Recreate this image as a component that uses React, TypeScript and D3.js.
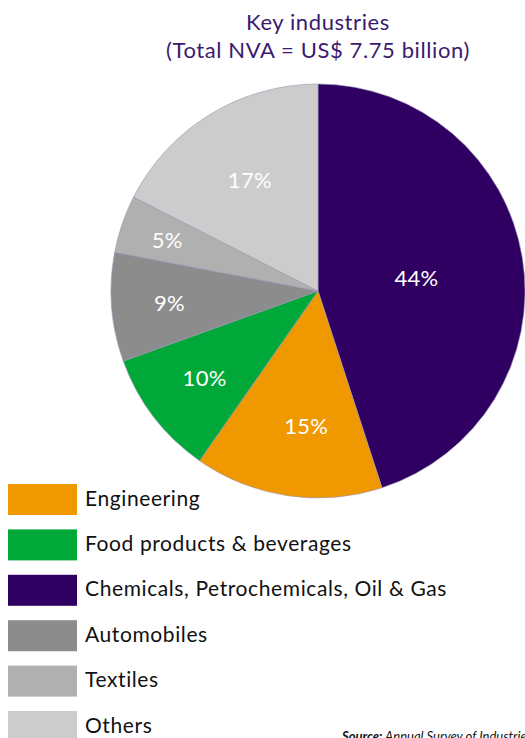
import React from "react";
import * as d3 from "d3";

const categories = ["Chemicals, Petrochemicals, Oil & Gas", "Engineering", "Food products & beverages", "Automobiles", "Textiles", "Others"];
const shares = [45.0, 14.7, 9.8, 8.5, 4.5, 17.5];
const shareLabels = ["44%", "15%", "10%", "9%", "5%", "17%"];
const sliceColors = ["#2f0061", "#f09800", "#00a83a", "#8c8c8c", "#b0b0b0", "#cccccc"];
const legendOrder = ["Engineering", "Food products & beverages", "Chemicals, Petrochemicals, Oil & Gas", "Automobiles", "Textiles", "Others"];
const titleLines = ["Key industries", "(Total NVA = US$ 7.75 billion)"];

// label placement (fraction of radius, angle nudge in radians) per slice, layout only
const labelRadiusFrac = [0.48, 0.65, 0.69, 0.72, 0.77, 0.63];
const labelAngleNudge = [0.02, -0.06, 0, 0, 0, 0];

const W = 525, H = 738;
const cx = 318, cy = 291, R = 207;
const FONT = "Lato, 'Open Sans', sans-serif";

export default function App() {
  const pie = d3.pie<number>().sort(null).value((d) => d);
  const arcs = pie(shares);
  const arcGen = d3.arc<d3.PieArcDatum<number>>().innerRadius(0).outerRadius(R);
  const color = d3.scaleOrdinal<string, string>().domain(categories).range(sliceColors);

  const legendY = d3.scalePoint<string>().domain(legendOrder).range([499, 726]);

  return (
    <svg width={W} height={H} style={{ position: "absolute", left: 0, top: 0, display: "block" }}>
      <rect width={W} height={H} fill="#fff" />
      {titleLines.map((t, i) => (
        <text key={i} x={318} y={30 + i * 28} textAnchor="middle" fontFamily={FONT} fontSize={22} letterSpacing={0.6} fill="#3b1a6e">
          {t}
        </text>
      ))}
      <g transform={`translate(${cx},${cy})`}>
        {arcs.map((a, i) => (
          <path key={i} d={arcGen(a) || ""} fill={color(categories[i])} stroke="#9b93b5" strokeWidth={0.6} />
        ))}
        {arcs.map((a, i) => {
          const lr = R * labelRadiusFrac[i];
          const ang = (a.startAngle + a.endAngle) / 2 + labelAngleNudge[i];
          const x = lr * Math.sin(ang);
          const y = -lr * Math.cos(ang);
          return (
            <text key={"l" + i} x={x} y={y} textAnchor="middle" dominantBaseline="central" fontFamily={FONT} fontSize={22} letterSpacing={0.3} fill="#fff">
              {shareLabels[i]}
            </text>
          );
        })}
      </g>
      {legendOrder.map((name) => {
        const y = legendY(name)!;
        return (
          <g key={name}>
            <rect x={8} y={y - 15} width={69} height={31} fill={color(name)} />
            <text x={85} y={y - 2} dominantBaseline="central" fontFamily={FONT} fontSize={21} letterSpacing={0.6} fill="#111">
              {name}
            </text>
          </g>
        );
      })}
      <text x={342} y={741} fontFamily={FONT} fontSize={13} fontStyle="italic" fill="#111">
        <tspan fontWeight="bold">Source:</tspan> Annual Survey of Industries
      </text>
    </svg>
  );
}
